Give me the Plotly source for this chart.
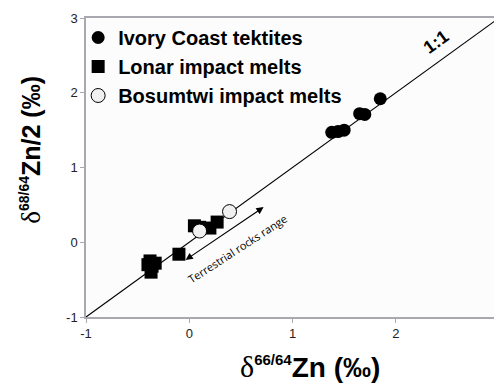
import plotly.graph_objects as go

ivory_x = [1.38, 1.44, 1.50, 1.65, 1.70, 1.85]
ivory_y = [1.47, 1.48, 1.50, 1.72, 1.71, 1.92]

lonar_x = [-0.38, -0.37, -0.33, -0.36, -0.40, -0.10, 0.05, 0.10, 0.20, 0.27]
lonar_y = [-0.25, -0.40, -0.28, -0.32, -0.30, -0.16, 0.22, 0.20, 0.19, 0.27]

bosum_x = [0.10, 0.39]
bosum_y = [0.15, 0.41]

line_x = [-1, 3]
line_y = [-1, 3]

tick_vals = [-1, 0, 1, 2, 3]
tick_text = ["-1", "0", "1", "2", "3"]

FONT = "Liberation Sans"

fig = go.Figure()
fig.add_trace(go.Scatter(x=line_x, y=line_y, mode="lines",
                         line=dict(color="black", width=1.2), showlegend=False, hoverinfo="skip"))
fig.add_trace(go.Scatter(x=ivory_x, y=ivory_y, mode="markers", name="Ivory Coast tektites",
                         marker=dict(symbol="circle", size=13, color="black")))
fig.add_trace(go.Scatter(x=lonar_x, y=lonar_y, mode="markers", name="Lonar impact melts",
                         marker=dict(symbol="square", size=13, color="black")))
fig.add_trace(go.Scatter(x=bosum_x, y=bosum_y, mode="markers", name="Bosumtwi impact melts",
                         marker=dict(symbol="circle", size=14, color="#f0f0f0",
                                     line=dict(color="black", width=1))))

axis_common = dict(range=[-1, 3], tickvals=tick_vals, ticktext=tick_text,
                   showgrid=False, zeroline=False,
                   showline=True, linecolor="#a8a8b0", linewidth=1.5, mirror=True,
                   ticks="outside", ticklen=4, tickcolor="#a8a8b0",
                   tickfont=dict(family=FONT, size=13, color="#222"))

fig.update_xaxes(**axis_common)
fig.update_yaxes(**axis_common)

fig.update_layout(
    width=494, height=375,
    margin=dict(l=78, r=1, t=10, b=66),
    paper_bgcolor="white", plot_bgcolor="#fcfcfc",
    legend=dict(x=-0.019, y=1.0, xanchor="left", yanchor="top",
                bgcolor="rgba(0,0,0,0)", itemwidth=30, tracegroupgap=0,
                font=dict(family=FONT, size=20, color="black", weight="bold")),
)

def title(sup, rest, big, small):
    return ('<span style="font-family:Liberation Serif, DejaVu Serif;font-weight:normal;font-size:%dpx">δ</span>' % big
            + '<sup><span style="font-size:%dpx;font-weight:bold">' % small + sup + '</span></sup>'
            '<b>' + rest + '</b>')

fig.add_annotation(xref="paper", yref="paper", x=0.543, y=-0.167, xanchor="center", yanchor="middle",
                   showarrow=False, text=title("66/64", "Zn (‰)", 30, 15),
                   font=dict(family=FONT, size=28, color="black"))
fig.add_annotation(xref="paper", yref="paper", x=-0.135, y=0.56, xanchor="center", yanchor="middle",
                   showarrow=False, textangle=-90, text=title("68/64", "Zn/2 (‰)", 27, 14),
                   font=dict(family=FONT, size=25, color="black"))

fig.add_annotation(x=2.39, y=2.68, xref="x", yref="y", showarrow=False, text="<b>1:1</b>",
                   textangle=-36, font=dict(family=FONT, size=18, color="black"))

fig.add_annotation(x=0.72, y=0.47, ax=-0.05, ay=-0.25, xref="x", yref="y", axref="x", ayref="y",
                   showarrow=True, arrowhead=2, startarrowhead=2, arrowside="end+start",
                   arrowsize=1.2, arrowwidth=1.2, arrowcolor="black", text="")
fig.add_annotation(x=0.47, y=-0.09, xref="x", yref="y", showarrow=False,
                   text="Terrestrial rocks range", textangle=-33,
                   font=dict(family="Open Sans", size=11, color="black"))

fig.write_html("out.html")
